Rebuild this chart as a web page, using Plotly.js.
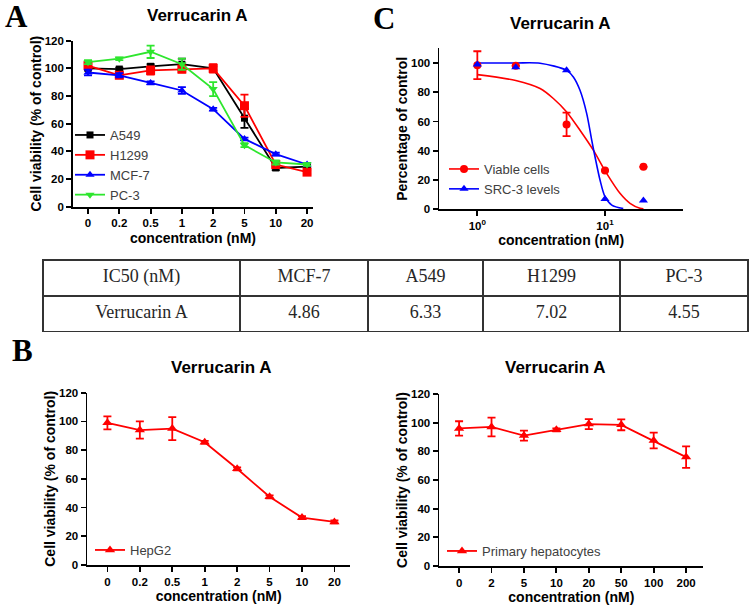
<!DOCTYPE html>
<html><head><meta charset="utf-8">
<script src="https://cdn.plot.ly/plotly-3.0.1.min.js"></script>
<style>html,body{margin:0;padding:0;background:#fff}#chart{width:753px;height:610px}</style>
</head><body><div id="chart"></div>
<script>
// ---------- data ----------
const concA = ['0','0.2','0.5','1','2','5','10','20'];
const a549 = [100, 99.5, 101.5, 103, 100, 64, 28, 29];
const a549Err = [1.5, 1, 1.5, 4, 1.5, 7, 1.5, 1];
const h1299 = [102, 95, 98.5, 99.5, 100, 73, 30.5, 25];
const h1299Err = [2, 2, 3, 2.5, 3, 8, 2, 1.5];
const mcf7 = [97, 95, 89.5, 84, 70.5, 49, 38, 30.5];
const mcf7Err = [2, 1.5, 1, 2.5, 1, 1, 1, 1];
const pc3 = [104.5, 107, 112, 103, 85, 44.5, 32, 30.5];
const pc3Err = [1.5, 1, 4.5, 4, 5, 1.5, 1.5, 1];

const concC = [1, 2, 5, 10, 20];
const viable = [98.5, 98, 58, 26.5, 29];
const viableErr = [9.5, 0, 8, 0, 0];
const src3 = [99, 97, 95, 7, 6];
const fitViableX = [1, 2, 3.1, 3.94, 5.01, 6.37, 8.1, 10.3, 13.1, 15.7, 18.8, 20];
const fitViableY = [92, 88, 82.5, 75.7, 66.5, 54, 40.4, 24.5, 10.9, 4.1, 0.7, 0.3];
const fitSrcX = [1, 2, 3.1, 5, 5.65, 6.37, 7.19, 7.87, 8.35, 9.14, 10, 11.3, 13.9];
const fitSrcY = [100, 100, 99.8, 95, 90.4, 81.3, 65.4, 47.2, 35.9, 20, 8.6, 2.9, 0.5];

const concHep = ['0','0.2','0.5','1','2','5','10','20'];
const hepg2 = [99, 94, 95, 85.5, 67, 47.5, 33, 30];
const hepg2Err = [4.5, 6, 8, 1, 1, 1, 1, 1];

const concPrim = ['0','2','5','10','20','50','100','200'];
const primary = [96, 97, 91, 95, 99, 98.5, 87.5, 76];
const primaryErr = [5, 6.5, 3.5, 1, 3.5, 3.8, 5.5, 7.5];

const tableHeader = ['IC50 (nM)', 'MCF-7', 'A549', 'H1299', 'PC-3'];
const tableRow = ['Verrucarin A', '4.86', '6.33', '7.02', '4.55'];

// ---------- style ----------
const W = 753, H = 610;
const fx = p => p / W;
const fy = p => 1 - p / H;
const F = 'Liberation Sans, Arial, sans-serif';
const RED = '#ff0000', BLUE = '#0000ff', GREEN = '#2ee62e', BLACK = '#000000';

function ax(extra) {
  return Object.assign({
    showline: true, linecolor: '#000', linewidth: 1.8, mirror: false,
    ticks: 'outside', ticklen: 5, tickwidth: 1.8, tickcolor: '#000',
    showgrid: false, zeroline: false, fixedrange: true,
    tickfont: {family: F, size: 11.5, color: '#000', weight: 'bold'}
  }, extra);
}
function atitle(t, standoff) {
  return {text: t, standoff: standoff, font: {family: F, size: 14, color: '#000', weight: 'bold'}};
}
function series(x, y, err, name, color, symbol, size, xa, ya, legend) {
  return {
    type: 'scatter', mode: 'lines+markers', x: x, y: y, name: name,
    xaxis: xa, yaxis: ya, legend: legend, cliponaxis: false,
    line: {color: color, width: 1.8},
    marker: {color: color, symbol: symbol, size: size},
    error_y: {type: 'data', array: err, visible: true, color: color, thickness: 1.8, width: 4}
  };
}

const traces = [
  series(concA, a549, a549Err, 'A549', BLACK, 'square', 7, 'x', 'y', 'legend'),
  series(concA, h1299, h1299Err, 'H1299', RED, 'square', 9, 'x', 'y', 'legend'),
  series(concA, mcf7, mcf7Err, 'MCF-7', BLUE, 'triangle-up', 8, 'x', 'y', 'legend'),
  series(concA, pc3, pc3Err, 'PC-3', GREEN, 'triangle-down', 8, 'x', 'y', 'legend'),

  {type: 'scatter', mode: 'lines', x: fitViableX, y: fitViableY, xaxis: 'x2', yaxis: 'y2',
   line: {color: RED, width: 1.6, shape: 'spline', smoothing: 0.8}, showlegend: false},
  {type: 'scatter', mode: 'lines', x: fitSrcX, y: fitSrcY, xaxis: 'x2', yaxis: 'y2',
   line: {color: BLUE, width: 1.6, shape: 'spline', smoothing: 0.8}, showlegend: false},
  {type: 'scatter', mode: 'markers', x: concC, y: viable, xaxis: 'x2', yaxis: 'y2', showlegend: false,
   cliponaxis: false, marker: {color: RED, symbol: 'circle', size: 8},
   error_y: {type: 'data', array: viableErr, visible: true, color: RED, thickness: 1.8, width: 4}},
  {type: 'scatter', mode: 'markers', x: concC, y: src3, xaxis: 'x2', yaxis: 'y2', showlegend: false,
   cliponaxis: false, marker: {color: BLUE, symbol: 'triangle-up', size: 8}},
  {type: 'scatter', mode: 'lines+markers', x: [null], y: [null], name: 'Viable cells', xaxis: 'x2', yaxis: 'y2',
   legend: 'legend2', line: {color: RED, width: 1.6}, marker: {color: RED, symbol: 'circle', size: 8}},
  {type: 'scatter', mode: 'lines+markers', x: [null], y: [null], name: 'SRC-3 levels', xaxis: 'x2', yaxis: 'y2',
   legend: 'legend2', line: {color: BLUE, width: 1.6}, marker: {color: BLUE, symbol: 'triangle-up', size: 8}},

  series(concHep, hepg2, hepg2Err, 'HepG2', RED, 'triangle-up', 9, 'x3', 'y3', 'legend3'),
  series(concPrim, primary, primaryErr, 'Primary hepatocytes', RED, 'triangle-up', 9, 'x4', 'y4', 'legend4'),

  {type: 'table', domain: {x: [fx(43), fx(748)], y: [fy(333), fy(260)]},
   columnwidth: [197, 128, 115, 137, 128],
   header: {values: tableHeader, align: 'center', height: 36,
            line: {color: '#333', width: 1.5}, fill: {color: '#fff'},
            font: {family: 'Liberation Serif, Times New Roman, serif', size: 18, color: '#262626'}},
   cells: {values: tableRow.map(v => [v]), align: 'center', height: 36,
           line: {color: '#333', width: 1.5}, fill: {color: '#fff'},
           font: {family: 'Liberation Serif, Times New Roman, serif', size: 18, color: '#262626'}}}
];

const legStyle = (x, y) => ({x: fx(x), y: fy(y), xanchor: 'left', yanchor: 'top',
  bgcolor: 'rgba(0,0,0,0)', font: {family: F, size: 13, color: '#404040'}, itemwidth: 30, tracegroupgap: 0});

const layout = {
  width: W, height: H, margin: {l: 0, r: 0, t: 0, b: 0},
  paper_bgcolor: '#fff', plot_bgcolor: 'rgba(0,0,0,0)', showlegend: true,
  xaxis: ax({domain: [fx(73), fx(313)], anchor: 'y', type: 'category', categoryarray: concA,
            range: [-0.48, 7.19], title: atitle('concentration (nM)', 5)}),
  yaxis: ax({domain: [fy(206.7), fy(40.7)], anchor: 'x', range: [0, 120], dtick: 20,
            title: atitle('Cell viability (% of control)', 0)}),
  xaxis2: ax({domain: [fx(439.3), fx(683)], anchor: 'y2', type: 'log', range: [-0.298, 1.611],
             tickvals: [1, 10], ticktext: ['10<sup>0</sup>', '10<sup>1</sup>'],
             title: atitle('concentration (nM)', 4)}),
  yaxis2: ax({domain: [fy(209.3), fy(48.3)], anchor: 'x2', range: [0, 110], tickvals: [0, 20, 40, 60, 80, 100],
             title: atitle('Percentage of control', 0)}),
  xaxis3: ax({domain: [fx(87.3), fx(350)], anchor: 'y3', type: 'category', categoryarray: concHep,
             range: [-0.62, 7.48], title: atitle('concentration (nM)', 4)}),
  yaxis3: ax({domain: [fy(565), fy(392.7)], anchor: 'x3', range: [0, 120], dtick: 20,
             title: atitle('Cell viability (% of control)', 0)}),
  xaxis4: ax({domain: [fx(439.3), fx(703.3)], anchor: 'y4', type: 'category', categoryarray: concPrim,
             range: [-0.61, 7.53], title: atitle('concentration (nM)', 4)}),
  yaxis4: ax({domain: [fy(566), fy(394)], anchor: 'x4', range: [0, 120], dtick: 20,
             title: atitle('Cell viability (% of control)', 0)}),
  legend: legStyle(70, 120),
  legend2: legStyle(444, 154),
  legend3: legStyle(90, 535),
  legend4: legStyle(442, 536),
  annotations: [
    {text: 'Verrucarin A', x: fx(197), y: fy(15)},
    {text: 'Verrucarin A', x: fx(560), y: fy(24)},
    {text: 'Verrucarin A', x: fx(221), y: fy(367)},
    {text: 'Verrucarin A', x: fx(555), y: fy(367)}
  ].map(a => Object.assign({xref: 'paper', yref: 'paper', showarrow: false, xanchor: 'center', yanchor: 'middle',
      font: {family: F, size: 17, color: '#000', weight: 'bold'}}, a)).concat([
    {text: 'A', x: fx(3), y: fy(-3)},
    {text: 'C', x: fx(371), y: fy(-1)},
    {text: 'B', x: fx(10), y: fy(331)}
  ].map(a => Object.assign({xref: 'paper', yref: 'paper', showarrow: false, xanchor: 'left', yanchor: 'top',
      font: {family: 'Liberation Serif, Times New Roman, serif', size: 31, color: '#000', weight: 'bold'}}, a)))
};

Plotly.newPlot('chart', traces, layout, {staticPlot: true, displayModeBar: false});
</script></body></html>
